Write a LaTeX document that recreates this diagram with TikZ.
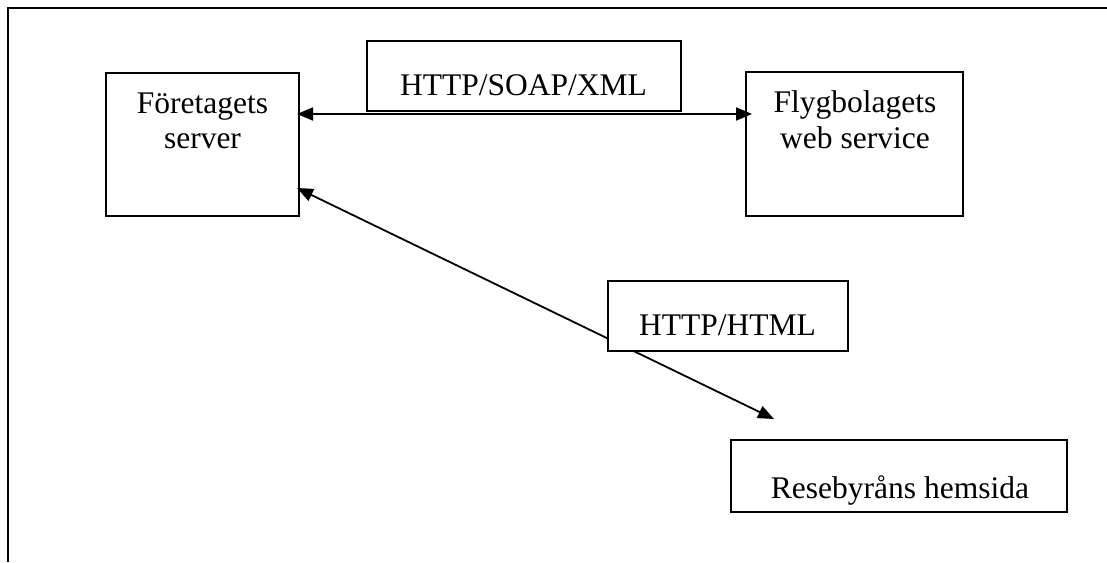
\documentclass[tikz,border=0pt]{standalone}
\usepackage{fontspec}
\setmainfont{Liberation Serif}
\usetikzlibrary{arrows.meta}

\begin{document}
\begin{tikzpicture}[x=1pt,y=-1pt,
  box/.style={draw=black,line width=2pt,rectangle,inner sep=0pt,outer sep=0pt},
  tag/.style={box,fill=white},
  txt/.style={anchor=base,inner sep=0pt,font=\fontsize{31.5}{36}\selectfont},
  tip/.style={Triangle[length=16pt,width=13pt]},
  link/.style={line width=1.8pt,{Triangle[length=16pt,width=13pt]}-{Triangle[length=16pt,width=13pt]}},
  frame/.style={line width=2.4pt}]
  \useasboundingbox (0,0) rectangle (1107,562);

  % open page frame: top and left rules
  \coordinate (fr) at (1107,8);
  \coordinate (fc) at (8,8);
  \coordinate (fb) at (8,562);
  \draw[frame] (fr) -- (fc) -- (fb);

  % system boxes
  \node[box,minimum width=193pt,minimum height=143pt] (A) at (202.5,144.5) {};
  \node[box,minimum width=217pt,minimum height=144pt] (B) at (854.5,144) {};
  \node[box,minimum width=336pt,minimum height=72pt] (C) at (899,476) {};

  % connectors
  \draw[link] ([yshift=30.5pt,xshift=-2pt]A.east) -- ([xshift=6pt,yshift=30pt]B.west);
  \draw[link] ([xshift=-2pt,yshift=-43.5pt]A.east) -- ([xshift=-125pt,yshift=21pt]C.north);

  % protocol labels
  \node[tag,minimum width=314pt,minimum height=70pt] (P1) at (524,76) {};
  \node[tag,minimum width=240.5pt,minimum height=70pt] (P2) at (728,316) {};

  % texts
  \node[txt] (a1) at (202.5,113) {Företagets};
  \node[txt] (a2) at (202.5,148) {server};
  \node[txt] (b1) at (855,112) {Flygbolagets};
  \node[txt] (b2) at (855,148) {web service};
  \node[txt] (c1) at (900,498) {Resebyråns hemsida};
  \node[txt] (p1) at (523.5,95) {HTTP/SOAP/XML};
  \node[txt] (p2) at (727.5,335) {HTTP/HTML};
\end{tikzpicture}
\end{document}
